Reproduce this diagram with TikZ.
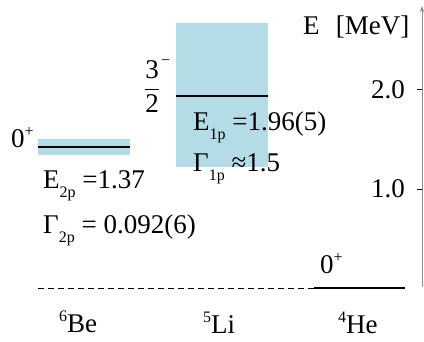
\documentclass[tikz,border=0pt]{standalone}
\usepackage{fontspec}
\setmainfont{Liberation Serif}
\usetikzlibrary{arrows.meta,positioning}
\definecolor{Band}{HTML}{B4DCE6}
\definecolor{AxisGray}{HTML}{8C8C8C}
\newcommand{\lowsub}[1]{\raisebox{-0.32em}{\fontsize{16}{16}\selectfont #1}}
\newcommand{\upsup}[1]{\raisebox{0.42em}{\fontsize{16}{16}\selectfont #1}}
\tikzset{lbl/.style={inner sep=0pt,font=\fontsize{27}{29}\selectfont},
  band/.style={fill=Band,draw=none},
  level/.style={line width=2.4pt,draw=black},
  threshold/.style={dashed,dash pattern=on 6pt off 4pt,line width=0.8pt},
  axis/.style={draw=AxisGray,line width=0.8pt,-{Stealth[length=6pt,width=4pt]}},
  tick/.style={line width=1pt,draw=black}}
\begin{document}
\begin{tikzpicture}[x=1pt,y=-1pt]
  \useasboundingbox (0,0) rectangle (424,342);
  % widths of the states
  \fill[band] (176,23) rectangle (268,167);
  \fill[band] (38,139) rectangle (130,155);
  % levels
  \coordinate (beL) at (38,147); \coordinate (beR) at (130,147);
  \coordinate (liL) at (176,96); \coordinate (liR) at (268,96);
  \coordinate (heL) at (314,288); \coordinate (heR) at (405,288);
  \coordinate (thr) at (38,288);
  \draw[level] (beL) -- (beR);
  \draw[level] (liL) -- (liR);
  \draw[threshold] (thr) -- (heL);
  \draw[level] (heL) -- (heR);
  % energy axis
  \coordinate (ax0) at (422,287); \coordinate (axtop) at (422,6);
  \coordinate (t2) at (422,90); \coordinate (t1) at (422,190);
  \draw[axis] (ax0) -- (axtop);
  \draw[tick] (t2) -- ++(-5,0);
  \draw[tick] (t1) -- ++(-5,0);
  \node[lbl,anchor=base west] (unit) at (303,35) {E\hspace{0.6em}[MeV]};
  \node[lbl,anchor=base east] (v2) at (405,99) {2.0};
  \node[lbl,anchor=base east] (v1) at (405,198) {1.0};
  % spins
  \node[lbl,anchor=base west] (bespin) at (11,148) {0\upsup{+}};
  \node[lbl,anchor=base west] (hespin) at (320,274) {0\upsup{+}};
  \node[lbl] (lispin) at (152,87) {$\displaystyle\frac{\mbox{3}}{\mbox{2}}$};
  \node[lbl,anchor=base west] (liparity) at (161,77) {\upsup{−}};
  % widths and energies
  \node[lbl,anchor=base west] (e1p) at (193,131) {E\lowsub{1p} =1.96(5)};
  \node[lbl,anchor=base west] (g1p) at (193,172) {Γ\lowsub{1p} ≈1.5};
  \node[lbl,anchor=base west] (e2p) at (43,189) {E\lowsub{2p} =1.37};
  \node[lbl,anchor=base west] (g2p) at (43,234) {Γ\lowsub{2p} = 0.092(6)};
  % nuclei
  \node[lbl,anchor=base west] (be) at (59,333) {\upsup{6}Be};
  \node[lbl,anchor=base west] (li) at (203,334) {\upsup{5}Li};
  \node[lbl,anchor=base west] (he) at (338,334) {\upsup{4}He};
\end{tikzpicture}
\end{document}
